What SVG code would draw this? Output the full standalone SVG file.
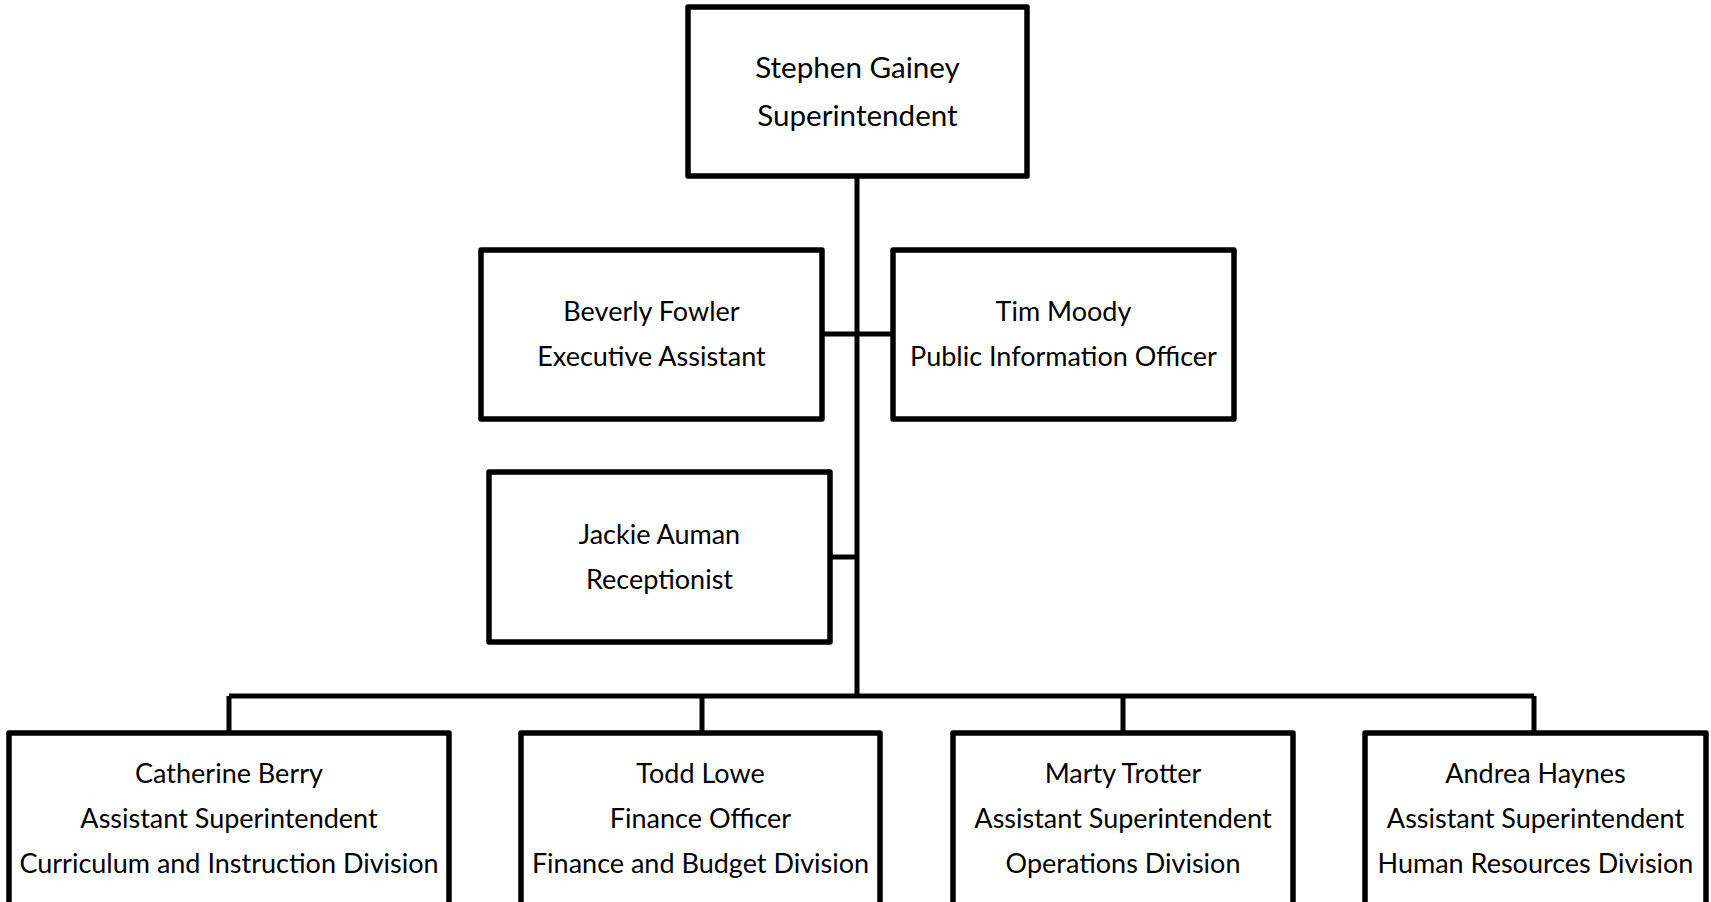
<svg xmlns="http://www.w3.org/2000/svg" width="1711" height="902" viewBox="0 0 1711 902">
<style>
.box{fill:#fff;stroke:#000;stroke-width:5.5;stroke-linejoin:round}
.ln{fill:none;stroke:#000;stroke-width:5}
text{font-family:Lato,"Liberation Sans",sans-serif;font-size:27px;fill:#000;text-anchor:middle}
.big{font-size:29.6px}
</style>
<rect width="1711" height="902" fill="#fff"/>
<g id="connectors">
<path class="ln" d="M857,176 V696"/>
<path class="ln" d="M822,334 H893"/>
<path class="ln" d="M830,557 H857"/>
<path class="ln" d="M229,696 H1534 M229,696 V733 M702,696 V733 M1123,696 V733 M1534,696 V733"/>
</g>
<g id="superintendent">
<rect class="box" x="688" y="7" width="339" height="169"/>
<text class="big" x="857.5" y="78">Stephen Gainey</text>
<text class="big" x="857.5" y="126">Superintendent</text>
</g>
<g id="executive-assistant">
<rect class="box" x="481" y="250" width="341" height="169"/>
<text x="651.5" y="321">Beverly Fowler</text>
<text x="651.5" y="366">Executive Assistant</text>
</g>
<g id="public-information-officer">
<rect class="box" x="893" y="250" width="341" height="169"/>
<text x="1063.5" y="321">Tim Moody</text>
<text x="1063.5" y="366">Public Information Officer</text>
</g>
<g id="receptionist">
<rect class="box" x="489" y="472" width="341" height="170"/>
<text x="659.5" y="544">Jackie Auman</text>
<text x="659.5" y="589">Receptionist</text>
</g>
<g id="curriculum">
<rect class="box" x="9" y="733" width="440" height="200"/>
<text x="229" y="783">Catherine Berry</text>
<text x="229" y="827.5">Assistant Superintendent</text>
<text x="229" y="872.5">Curriculum and Instruction Division</text>
</g>
<g id="finance">
<rect class="box" x="521" y="733" width="359" height="200"/>
<text x="700.5" y="783">Todd Lowe</text>
<text x="700.5" y="827.5">Finance Officer</text>
<text x="700.5" y="872.5">Finance and Budget Division</text>
</g>
<g id="operations">
<rect class="box" x="953" y="733" width="340" height="200"/>
<text x="1123" y="783">Marty Trotter</text>
<text x="1123" y="827.5">Assistant Superintendent</text>
<text x="1123" y="872.5">Operations Division</text>
</g>
<g id="human-resources">
<rect class="box" x="1365" y="733" width="341" height="200"/>
<text x="1535.5" y="783">Andrea Haynes</text>
<text x="1535.5" y="827.5">Assistant Superintendent</text>
<text x="1535.5" y="872.5">Human Resources Division</text>
</g>
</svg>
